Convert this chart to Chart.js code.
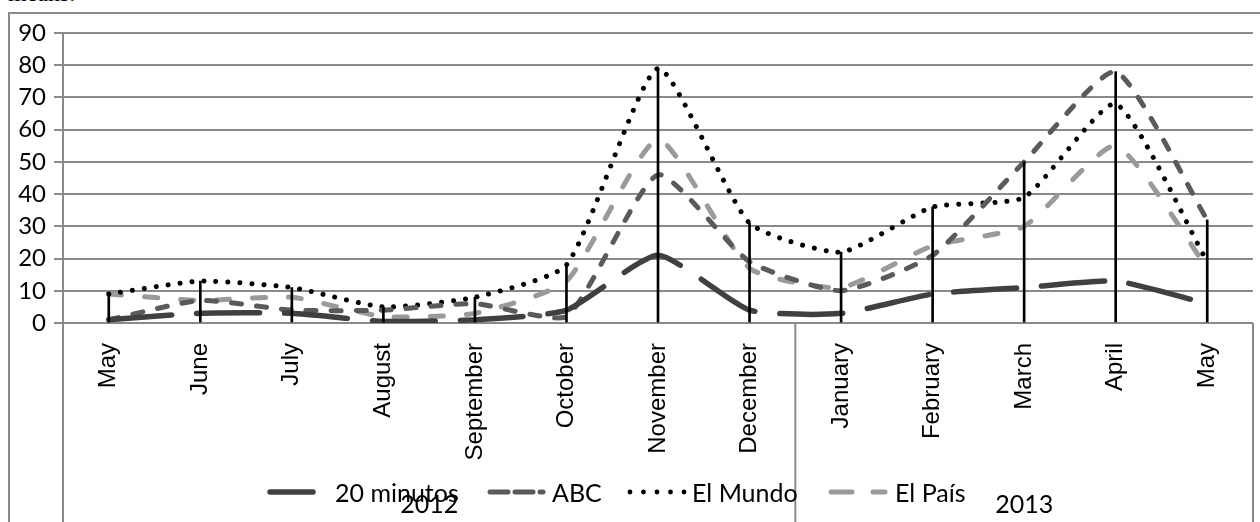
<!DOCTYPE html>
<html><head><meta charset="utf-8">
<script src="https://cdn.jsdelivr.net/npm/chart.js@4.4.1/dist/chart.umd.min.js"></script>
<style>
html,body{margin:0;padding:0;background:#fff;width:1260px;height:522px;overflow:hidden;}
#wrap{position:relative;width:1260px;height:522px;overflow:hidden;}
#frame{position:absolute;left:8px;top:12px;width:1300px;height:600px;border:2px solid #8a8a8a;box-sizing:border-box;}
#cap{position:absolute;left:8px;top:-19px;font-family:'Liberation Serif';font-size:24px;line-height:24px;}
canvas{position:absolute;left:0;top:0;}
.lg{position:absolute;font-family:Lato;font-size:25px;line-height:28px;top:478px;color:#000;white-space:nowrap;}
svg{position:absolute;left:0;top:0;}
</style></head>
<body>
<div id="wrap">
<div id="cap">means.</div>
<div id="frame"></div>
<canvas id="c" width="1260" height="522"></canvas>
<svg width="1260" height="522">
 <line x1="270" y1="492" x2="313" y2="492" stroke="#404040" stroke-width="5.5" stroke-linecap="round"/>
 <line x1="490" y1="492" x2="508" y2="492" stroke="#5a5a5a" stroke-width="5" stroke-linecap="round"/>
 <line x1="515" y1="492" x2="533" y2="492" stroke="#5a5a5a" stroke-width="5" stroke-linecap="round"/>
 <line x1="540" y1="492" x2="543" y2="492" stroke="#5a5a5a" stroke-width="5" stroke-linecap="round"/>
 <circle cx="630" cy="492" r="2.4" fill="#000"/><circle cx="643.5" cy="492" r="2.4" fill="#000"/><circle cx="657" cy="492" r="2.4" fill="#000"/><circle cx="670.5" cy="492" r="2.4" fill="#000"/><circle cx="684" cy="492" r="2.4" fill="#000"/>
 <line x1="831" y1="492" x2="852" y2="492" stroke="#9a9a9a" stroke-width="5" stroke-linecap="round"/>
 <line x1="873" y1="492" x2="885" y2="492" stroke="#9a9a9a" stroke-width="5" stroke-linecap="round"/>
</svg>
<div class="lg" style="left:335px">20 minutos</div>
<div class="lg" style="left:552px">ABC</div>
<div class="lg" style="left:692px">El Mundo</div>
<div class="lg" style="left:895px">El País</div>
</div>
<script>
// ---- data ----
const categories = ['May','June','July','August','September','October','November','December','January','February','March','April','May'];
const years = ['2012','2013'];
const yearSpans = [8,5];
const minutos20 = [1,3,3,0.5,1,4,21,4,3,9,11,13,6];
const abc = [1,7,4,4,6,2,46,19,10,21,50,78,32];
const elMundo = [9,13,11,5,8,18,79,31,22,36,39,68,19];
const elPais = [9,7,8,2,3,13,57,17,11,24,30,55,17];
const yMin = 0, yMax = 90, yStep = 10;
// drop lines reach the highest series at each month
const dropLine = categories.map((_,i)=>Math.max(minutos20[i],abc[i],elMundo[i],elPais[i]));

const boxPlugin = {id:'box', afterDraw(chart){
  const {ctx, chartArea:a, scales:{x}} = chart;
  const H = chart.height;
  ctx.save(); ctx.strokeStyle='#8a8a8a'; ctx.lineWidth=2;
  let start = 0; const edges=[a.left];
  yearSpans.forEach(n=>{ start+=n; edges.push(start<categories.length ? (x.getPixelForValue(start-1)+x.getPixelForValue(start))/2 : a.right);});
  edges.forEach(px=>{ctx.beginPath();ctx.moveTo(px,a.bottom);ctx.lineTo(px,H);ctx.stroke();});
  ctx.font='25px Lato'; ctx.fillStyle='#000'; ctx.textAlign='center'; ctx.textBaseline='middle';
  years.forEach((y,i)=>ctx.fillText(y,(edges[i]+edges[i+1])/2, 505));
  ctx.restore();
}};

const lineBase = {pointRadius:0, tension:0.18, borderCapStyle:'round', borderJoinStyle:'round', fill:false};
new Chart(document.getElementById('c'), {
  type:'line',
  data:{labels:categories, datasets:[
    {type:'bar', label:'drop', data:dropLine, backgroundColor:'#000', barThickness:2, order:0},
    Object.assign({label:'20 minutos', data:minutos20, borderColor:'#404040', borderWidth:5.5, borderDash:[63,25], order:1}, lineBase),
    Object.assign({label:'ABC', data:abc, borderColor:'#5a5a5a', borderWidth:5, borderDash:[10,15], order:2}, lineBase),
    Object.assign({label:'El Mundo', data:elMundo, borderColor:'#000', borderWidth:5, borderDash:[0.01,12], order:3}, lineBase),
    Object.assign({label:'El País', data:elPais, borderColor:'#9a9a9a', borderWidth:5, borderDash:[13,23], order:4}, lineBase)
  ]},
  options:{
    responsive:false, animation:false, devicePixelRatio:1,
    layout:{padding:{left:0,right:7,top:33,bottom:0}},
    plugins:{legend:{display:false}, tooltip:{enabled:false}},
    scales:{
      x:{offset:true, grid:{display:false}, border:{display:false},
         ticks:{minRotation:90,maxRotation:90,padding:12,autoSkip:false,color:'#000',font:{family:'Liberation Sans',size:24}},
         afterFit(s){s.height=199;}},
      y:{min:yMin,max:yMax, ticks:{stepSize:yStep,padding:8,color:'#000',font:{family:'Lato',size:24}},
         grid:{color:'#8a8a8a',lineWidth:2,tickLength:9}, border:{color:'#8a8a8a',width:2},
         afterFit(s){s.width=63;}}
    }
  },
  plugins:[boxPlugin]
});
</script>
</body></html>
